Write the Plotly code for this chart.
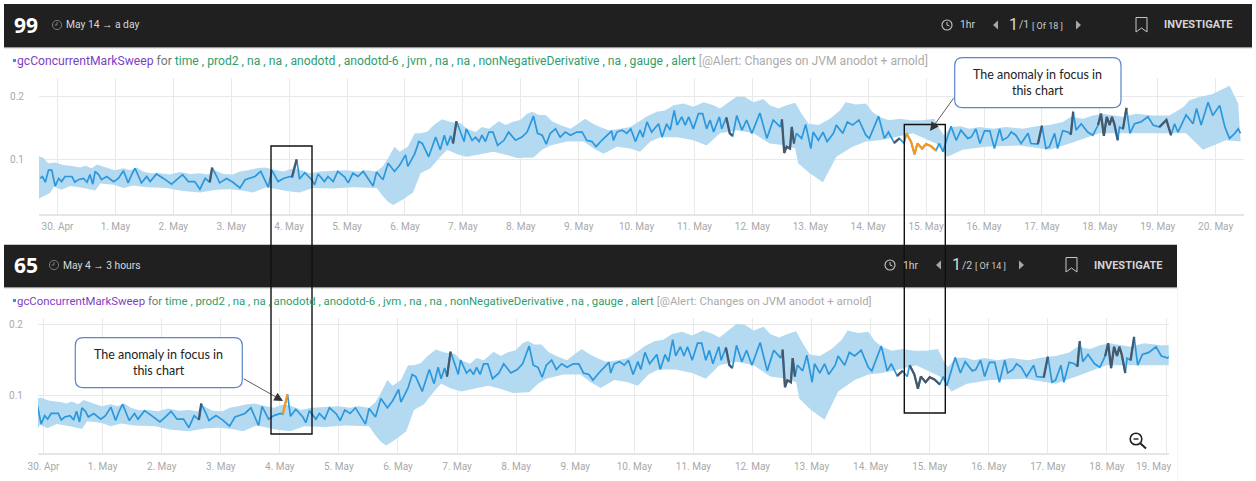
import plotly.graph_objects as go

W, H = 1256, 481

line_days = [-.30,-.26,-.21,-.155,-.10,-.04,.02,.07,.13,.25,.30,.36,.45,.51,.56,.61,.65,.71,.76,.85,.97,
 1.05,1.14,1.22,1.28,1.34,1.45,1.54,1.60,1.71,1.83,1.97,2.06,2.16,2.26,2.37,2.46,2.55,2.63,2.67,2.75,2.80,2.92,
 3.03,3.15,3.24,3.41,3.51,3.64,3.70,3.81,3.90,4.01,4.05,4.13,4.18,4.27,4.39,4.44,4.50,4.61,4.67,4.76,4.84,4.96,
 5.02,5.10,5.19,5.28,5.45,5.51,5.62,5.71,5.82,5.91,6.01,6.05,6.17,6.24,6.30,6.41,6.53,6.61,6.68,6.73,6.79,6.83,6.89,6.96,
 7.02,7.06,7.16,7.22,7.28,7.33,7.39,7.45,7.52,7.60,7.71,7.79,7.91,8.02,8.11,8.22,8.29,8.37,8.44,8.51,8.60,8.68,8.77,8.86,8.97,
 9.06,9.14,9.23,9.30,9.40,9.57,9.60,9.66,9.75,9.83,9.90,9.98,10.06,10.11,10.18,10.26,10.38,10.44,10.52,10.58,10.65,10.70,10.78,10.84,10.90,10.98,
 11.07,11.14,11.21,11.27,11.33,11.43,11.47,11.55,11.61,11.66,11.73,11.82,11.90,11.99,12.13,12.25,12.36,12.48,12.51,12.55,12.59,12.65,12.68,12.72,12.76,12.85,12.92,
 13.01,13.05,13.14,13.22,13.29,13.40,13.45,13.50,13.56,13.64,13.73,13.84,13.96,14.02,14.18,14.28,14.35,14.45,14.54,14.62,14.66,14.74,14.80,14.85,14.93,
 15.00,15.08,15.17,15.23,15.29,15.43,15.52,15.60,15.72,15.78,15.86,15.93,16.01,16.10,16.18,16.27,16.32,16.41,16.47,16.55,16.64,16.76,16.81,16.93,
 17.00,17.07,17.13,17.22,17.27,17.36,17.45,17.50,17.54,17.59,17.68,17.79,17.88,17.97,18.02,18.07,18.12,18.17,18.21,18.25,18.31,18.34,18.40,18.46,18.52,18.60,18.71,18.83,18.92,
 19.03,19.15,19.23,19.29,19.35,19.49,19.61,19.67,19.75,19.87,19.95,20.07,20.16,20.24,20.33,20.39,20.43]
line_vals = [.071,.074,.065,.084,.084,.059,.071,.066,.074,.074,.065,.069,.071,.065,.077,.062,.082,.077,.069,.074,.066,
 .071,.083,.064,.077,.087,.064,.074,.066,.078,.071,.062,.069,.077,.066,.066,.054,.071,.065,.088,.074,.064,.071,
 .065,.056,.069,.074,.082,.057,.084,.066,.071,.074,.073,.101,.070,.080,.069,.061,.078,.066,.074,.066,.082,.073,
 .064,.079,.074,.082,.059,.081,.069,.095,.082,.092,.108,.090,.110,.129,.126,.105,.136,.116,.139,.123,.138,.126,.161,.144,
 .129,.149,.131,.136,.129,.139,.129,.144,.144,.123,.131,.144,.131,.136,.144,.169,.142,.139,.125,.142,.149,.136,.144,.139,.144,
 .144,.131,.129,.121,.131,.146,.131,.144,.147,.142,.149,.129,.147,.136,.160,.144,.157,.136,.157,.147,.178,.155,.168,.155,.168,.149,
 .173,.173,.149,.163,.144,.168,.149,.167,.142,.138,.170,.147,.163,.142,.174,.134,.163,.152,.164,.111,.121,.118,.152,.126,.142,.134,.156,
 .118,.144,.131,.144,.129,.142,.155,.149,.142,.160,.155,.163,.139,.134,.169,.134,.144,.127,.134,.126,.142,.129,.109,.126,.118,
 .125,.122,.115,.126,.113,.153,.131,.147,.134,.136,.149,.126,.146,.146,.118,.149,.131,.136,.144,.139,.126,.142,.126,.125,
 .154,.118,.121,.142,.118,.146,.144,.140,.176,.147,.157,.144,.139,.155,.173,.138,.168,.155,.168,.157,.131,.152,.149,.182,.142,.157,.160,.168,.155,
 .152,.163,.139,.157,.144,.171,.157,.181,.155,.191,.170,.186,.152,.134,.142,.149,.142]

upper_days = [-.32,-.24,-.16,-.04,.10,.28,.39,.48,.59,.68,.88,.99,1.14,1.25,1.37,1.48,1.60,1.77,1.94,2.11,2.29,2.46,2.60,2.72,2.86,
 3.03,3.15,3.29,3.44,3.58,3.72,3.90,4.07,4.21,4.36,4.53,4.76,4.99,5.19,5.33,5.51,5.62,5.71,5.82,5.91,6.05,6.17,
 6.27,6.39,6.50,6.64,6.79,6.96,7.07,7.22,7.33,7.45,7.62,7.74,7.85,7.99,8.11,8.20,8.31,8.43,8.54,8.68,8.86,9.0,9.11,9.23,9.37,9.52,9.72,9.89,
 10.03,10.18,10.35,10.49,10.64,10.81,10.98,11.16,11.33,11.44,11.59,11.73,11.87,12.02,12.19,12.30,12.45,12.59,12.74,12.85,12.97,13.14,13.34,13.51,
 13.61,13.79,13.96,14.07,14.19,14.36,14.54,14.74,14.94,15.14,15.23,15.31,15.43,15.60,15.75,15.92,16.15,16.38,16.67,16.90,17.13,17.36,17.5,17.71,17.88,18.05,18.40,18.63,18.92,19.2,19.44,19.55,19.72,19.95,20.24,20.39,20.43]
upper_vals = [.106,.103,.095,.096,.092,.090,.088,.091,.087,.093,.087,.084,.087,.084,.088,.082,.079,.079,.077,.081,.078,.079,.077,.084,.078,
 .077,.082,.084,.087,.088,.085,.082,.087,.084,.079,.082,.083,.084,.082,.084,.082,.090,.103,.121,.113,.121,.142,
 .142,.145,.155,.164,.160,.158,.149,.144,.152,.149,.161,.155,.160,.163,.173,.176,.171,.171,.161,.155,.149,.158,.165,.158,.152,.147,.149,.152,
 .160,.169,.176,.178,.186,.189,.184,.191,.186,.181,.191,.200,.199,.191,.196,.186,.181,.186,.190,.173,.157,.155,.165,.178,
 .191,.1875,.189,.176,.168,.1625,.165,.1625,.1625,.165,.149,.139,.152,.153,.149,.152,.149,.152,.149,.153,.155,.160,.168,.165,.170,.173,.168,.173,.170,.170,.183,.194,.199,.204,.217,.189,.131]
lower_days = [-.32,-.24,-.13,-.06,.07,.22,.45,.65,.74,.97,1.14,1.31,1.54,1.89,2.03,2.17,2.46,2.75,2.98,3.18,3.38,3.61,3.95,4.18,4.41,4.76,5.10,5.51,5.62,5.71,5.80,5.97,6.14,
 6.27,6.44,6.61,6.73,6.90,7.07,7.30,7.53,7.76,7.94,8.22,8.37,8.51,8.80,9.09,9.26,9.43,9.66,9.89,10.06,10.24,10.41,10.70,10.98,11.21,11.44,11.73,12.02,12.30,12.59,12.74,12.79,12.99,13.22,13.45,
 13.73,13.96,14.19,14.36,14.77,15.17,15.37,15.63,16.03,16.61,17.13,17.48,17.99,18.63,19.49,19.78,20.18,20.43]
lower_vals = [.039,.043,.048,.058,.053,.059,.056,.052,.063,.061,.056,.060,.057,.056,.053,.051,.049,.053,.054,.052,.049,.057,.051,.049,.056,.055,.057,.056,.043,.034,.029,.038,.049,
 .079,.087,.105,.116,.109,.105,.109,.113,.108,.103,.104,.116,.123,.129,.129,.118,.110,.121,.118,.113,.129,.136,.136,.131,.123,.142,.147,.142,.126,.123,.118,.095,.079,.065,.105,
 .121,.129,.131,.134,.142,.126,.105,.116,.121,.123,.116,.126,.142,.142,.142,.116,.131,.129]

anomaly_spans = [(2.63,2.67),(4.05,4.13),(6.83,6.89),(11.55,11.66),(12.51,12.72),(14.45,14.54),(14.66,15.17),
                 (16.93,17.00),(17.50,17.54),(17.97,18.31),(18.40,18.46),(19.03,19.23)]
focus_top = (14.66,15.17)
focus_bottom = (4.05,4.13)
bottom_skip = [(19.03,19.23)]

tick_days = list(range(0,21))
tick_labels = ["30. Apr"]+[f"{i}. May" for i in range(1,21)]
y_ticks = [0.1,0.2]

BAND="#b4daf2"; LINE="#2b97dc"; DARK="#45586c"; ORANGE="#f5981f"; GRID="#e9e9e9"; TICK="#a9a9a9"
HEAD="#202020"

def sel(lo,hi):
    idx=[i for i,d in enumerate(line_days) if lo<=d<=hi]
    return [line_days[i] for i in idx],[line_vals[i] for i in idx]

fig=go.Figure()
def add_chart(xa,ya,focus,skip):
    fig.add_trace(go.Scatter(x=upper_days+lower_days[::-1],y=upper_vals+lower_vals[::-1],fill="toself",
        fillcolor=BAND,mode="none",xaxis=xa,yaxis=ya,showlegend=False,hoverinfo="skip"))
    fig.add_trace(go.Scatter(x=line_days,y=line_vals,mode="lines",line=dict(color=LINE,width=1.7),xaxis=xa,yaxis=ya,showlegend=False))
    for sp in anomaly_spans:
        if sp in skip: continue
        xs,ys=sel(*sp)
        fig.add_trace(go.Scatter(x=xs,y=ys,mode="lines",line=dict(color=ORANGE if sp==focus else DARK,width=2.3),
            xaxis=xa,yaxis=ya,showlegend=False))

add_chart("x","y",focus_top,[])
add_chart("x2","y2",focus_bottom,bottom_skip)

def axis_x(dom,rng,labels):
    return dict(domain=dom,range=rng,tickmode="array",tickvals=tick_days,ticktext=labels,showgrid=True,gridcolor=GRID,gridwidth=1.3,
        zeroline=False,showline=True,linecolor="#e6e6e6",linewidth=1.5,ticks="outside",ticklen=3,tickcolor="rgba(0,0,0,0)",
        tickfont=dict(family="Roboto",size=10,color=TICK),automargin=False)
def axis_y(dom,rng,ticklen,anchor):
    return dict(domain=dom,range=rng,tickmode="array",tickvals=y_ticks,ticktext=["0.1","0.2"],showgrid=True,gridcolor=GRID,gridwidth=1.3,
        zeroline=False,showline=False,ticks="outside",ticklen=ticklen,tickcolor="rgba(0,0,0,0)",
        tickfont=dict(family="Roboto",size=10,color=TICK),anchor=anchor,automargin=False)

labels2=[t if i<19 else "" for i,t in enumerate(tick_labels)]
fig.update_layout(
    width=W,height=H,margin=dict(l=0,r=0,t=0,b=0,pad=0,autoexpand=False),paper_bgcolor="white",plot_bgcolor="white",showlegend=False,
    xaxis=axis_x([39/W,1244/W],[-0.3195,20.49],tick_labels),
    yaxis=axis_y([1-213.5/H,1-78/H],[0.01575,0.2291],12,"x"),
    xaxis2=dict(axis_x([38/W,1168.7/W],[-0.093,19.045],labels2),anchor="y2"),
    yaxis2=axis_y([1-453/H,1-318/H],[0.0183,0.2085],12,"x2"),
)

px=lambda x:x/W
py=lambda y:1-y/H
shapes=[];ann=[]
def rect(x0,y0,x1,y1,fill=None,line=None,lw=0,layer="above"):
    shapes.append(dict(type="rect",xref="paper",yref="paper",x0=px(x0),x1=px(x1),y0=py(y0),y1=py(y1),
        fillcolor=fill or "rgba(0,0,0,0)",line=dict(color=line or "rgba(0,0,0,0)",width=lw),layer=layer))
def poly(pts,fill=None,line=None,lw=1,close=True):
    d="M"+" L".join(f"{px(a):.5f},{py(b):.5f}" for a,b in pts)+(" Z" if close else "")
    shapes.append(dict(type="path",xref="paper",yref="paper",path=d,fillcolor=fill or "rgba(0,0,0,0)",
        line=dict(color=line or "rgba(0,0,0,0)",width=lw)))
def circle(cx,cy,r,line,lw):
    shapes.append(dict(type="circle",xref="paper",yref="paper",x0=px(cx-r),x1=px(cx+r),y0=py(cy+r),y1=py(cy-r),line=dict(color=line,width=lw)))
def text(x,y,s,size,color="#fff",family="Roboto",anchor="left"):
    ann.append(dict(xref="paper",yref="paper",x=px(x),y=py(y),text=s,showarrow=False,xanchor=anchor,yanchor="middle",
        font=dict(family=family,size=size,color=color),align="center",borderpad=0,borderwidth=0))

def header(x0,x1,y0,y1,num,when,cx,frac,of,ib,cy,whenx):
    rect(x0,y0,x1,y1,fill=HEAD,layer="below")
    rect(x0,y1,x1,y1+1.3,fill="#9a9a9a",layer="below")
    text(14,cy,f"<b>{num}</b>",21,family="Noto Sans")
    circle(whenx-9,cy,4.6,"#8f8f8f",0.8)
    poly([(whenx-9,cy-3),(whenx-9,cy),(whenx-11.5,cy)],line="#8f8f8f",lw=0.8,close=False)
    text(whenx,cy,when,10.3,"#d8d8d8")
    circle(cx,cy,5,"#c8c8c8",1.1)
    poly([(cx,cy-3),(cx,cy),(cx+2.5,cy+1)],line="#c8c8c8",lw=1,close=False)
    text(cx+13,cy,"1hr",10.3,"#d0d0d0")
    t1=cx+48
    poly([(t1+3,cy-4.5),(t1+3,cy+4.5),(t1-2,cy)],fill="#a8a8a8")
    text(t1+14,cy-1,"1",16,"#d8d8d8")
    text(t1+24,cy,frac,10.5,"#c8c8c8")
    text(t1+37,cy+.5,of,9,"#c8c8c8")
    t2=t1+83
    poly([(t2-2,cy-4.5),(t2-2,cy+4.5),(t2+3,cy)],fill="#a8a8a8")
    b=ib-28
    poly([(b,cy-7.5),(b+11,cy-7.5),(b+11,cy+7),(b+5.5,cy+3),(b,cy+7)],line="#c8c8c8",lw=1)
    text(ib,cy,"<b>INVESTIGATE</b>",11,"#d4d4d4")

header(4,1252,4,47,"99","May 14 \u2192 a day",947,"/1","[ Of 18 ]",1164,25,66)
header(4,1177,244.7,287,"65","May 4 \u2192 3 hours",890,"/2","[ Of 14 ]",1094,265,63)

def title(y,size):
    s=("<span style='color:#7b3fc4'>gcConcurrentMarkSweep</span> <span style='color:#757575'>for</span> "
       "<span style='color:#2f9e6e'>time , prod2 , na , na , anodotd , anodotd-6 , jvm , na , na , nonNegativeDerivative , na , gauge , alert</span> "
       "<span style='color:#ababab'>[@Alert: Changes on JVM anodot + arnold]</span>")
    rect(13,y-2,16,y+1,fill="#2b97dc")
    text(17,y,s,size,"#777")
title(61,12.15)
title(301,11.4)

rect(1177,287,1177.8,481,fill="#f1f1f1",layer="below")
text(1153,466,"19. May",10,TICK,anchor="center")

circle(1136,439,5.8,"#222",1.6)
poly([(1133.5,439),(1138.5,439)],line="#222",lw=1.4,close=False)
poly([(1140.5,443.5),(1146,448.5)],line="#222",lw=2,close=False)

def callout(x0,y0,x1,y1,r=8):
    pts=f"M{px(x0+r):.5f},{py(y0):.5f} L{px(x1-r):.5f},{py(y0):.5f} Q{px(x1):.5f},{py(y0):.5f} {px(x1):.5f},{py(y0+r):.5f} "\
        f"L{px(x1):.5f},{py(y1-r):.5f} Q{px(x1):.5f},{py(y1):.5f} {px(x1-r):.5f},{py(y1):.5f} "\
        f"L{px(x0+r):.5f},{py(y1):.5f} Q{px(x0):.5f},{py(y1):.5f} {px(x0):.5f},{py(y1-r):.5f} "\
        f"L{px(x0):.5f},{py(y0+r):.5f} Q{px(x0):.5f},{py(y0):.5f} {px(x0+r):.5f},{py(y0):.5f} Z"
    shapes.append(dict(type="path",xref="paper",yref="paper",path=pts,fillcolor="white",line=dict(color="#5b84cb",width=1.2)))
    text((x0+x1)/2,(y0+y1)/2,"The anomaly in focus in<br>this chart",12.5,"#222","Lato","center")

callout(954.7,57.7,1121,107.7)
callout(75.3,337.7,242.3,387.7)

def arrow(x0,y0,x1,y1):
    ann.append(dict(xref="paper",yref="paper",x=px(x1),y=py(y1),ax=x0-x1,ay=y0-y1,axref="pixel",ayref="pixel",text="",showarrow=True,
        arrowhead=2,arrowsize=2.2,arrowwidth=0.8,arrowcolor="#333"))
arrow(954.7,96.7,930,131)
arrow(242.3,378,283,401)

rect(271,146,312,434,line="#111",lw=1.4)
rect(904.3,124.5,945.3,413,line="#111",lw=1.4)

fig.update_layout(shapes=shapes,annotations=ann)
fig.write_html("out.html",config={"displayModeBar":False},
    post_script="document.body.style.margin='0';document.documentElement.style.overflow='hidden';")
